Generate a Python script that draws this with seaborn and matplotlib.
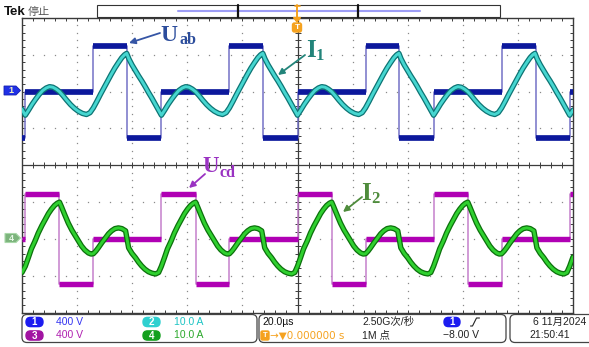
import numpy as np
import matplotlib
matplotlib.use("Agg")
import matplotlib.pyplot as plt
import seaborn as sns
import matplotlib.patheffects as pe
from matplotlib.patches import FancyBboxPatch, Rectangle, Polygon

sns.set_theme(style="white")
plt.rcParams['font.family'] = ['Liberation Sans', 'Noto Sans CJK SC', 'DejaVu Sans']

W, H = 589, 347

# ------------------------------------------------------------------ data
# time axis in microseconds (20 us/div, trigger at 0)
uab_t = [-100.0, -98.8, -74.1, -61.8, -49.4, -24.7, -12.4, 0.0, 24.7, 37.0,
         49.4, 74.1, 86.4, 98.8, 100.0]
uab_v = [-500, 0, 500, -500, 0, 500, -500, 0, 500, -500, 0, 500, -500, 0, 0]

ucd_t = [-100.0, -98.8, -86.4, -74.1, -49.4, -37.0, -24.7, 0.0, 12.4, 24.7,
         49.4, 61.8, 74.1, 98.8, 100.0]
ucd_v = [0, 485, -485, 0, 485, -485, 0, 485, -485, 0, 485, -485, 0, 485, 485]

i1_t = [-100.0,
        -98.8, -97.6, -96.3, -95.0, -93.8, -92.5, -91.2, -90.0, -88.8, -87.6,
        -86.4, -85.1, -83.8, -82.4, -81.0, -79.6, -78.1, -76.6, -75.3, -74.1,
        -72.8, -71.5, -70.2, -68.9, -67.6, -66.3, -65.0, -63.8, -62.8, -62.0,
        -61.2, -60.1, -58.9, -57.7, -56.5, -55.3, -54.1, -52.9, -51.7, -50.5,
        -49.4, -48.2, -46.9, -45.6, -44.4, -43.1, -41.8, -40.6, -39.4, -38.2,
        -37.0, -35.7, -34.4, -33.0, -31.6, -30.2, -28.7, -27.2, -25.9, -24.7,
        -23.4, -22.1, -20.8, -19.5, -18.2, -16.9, -15.6, -14.4, -13.4, -12.6,
        -11.8, -10.7, -9.5, -8.3, -7.1, -5.9, -4.7, -3.5, -2.3, -1.1,
        0.0, 1.2, 2.5, 3.8, 5.0, 6.3, 7.6, 8.8, 10.0, 11.2,
        12.4, 13.7, 15.0, 16.4, 17.8, 19.2, 20.7, 22.2, 23.5, 24.7,
        26.0, 27.3, 28.6, 29.9, 31.2, 32.5, 33.8, 35.0, 36.0, 36.8,
        37.6, 38.7, 39.9, 41.1, 42.3, 43.5, 44.7, 45.9, 47.1, 48.3,
        49.4, 50.6, 51.9, 53.2, 54.4, 55.7, 57.0, 58.2, 59.4, 60.6,
        61.8, 63.1, 64.4, 65.8, 67.2, 68.6, 70.1, 71.6, 72.9, 74.1,
        75.4, 76.7, 78.0, 79.3, 80.6, 81.9, 83.2, 84.4, 85.4, 86.2,
        87.0, 88.1, 89.3, 90.5, 91.7, 92.9, 94.1, 95.3, 96.5, 97.7,
        98.8, 100.0]
i1_v = [-4.8,
        -6.4, -5.0, -3.4, -2.0, -0.8, 0.3, 1.0, 1.35, 1.2, 0.7,
        0.0, -1.1, -2.3, -3.5, -4.5, -5.3, -5.9, -6.2, -5.7, -4.4,
        -2.6, -0.7, 1.1, 2.9, 4.7, 6.4, 7.9, 9.2, 10.0, 10.4,
        8.9, 7.3, 5.8, 4.3, 2.9, 1.4, -0.2, -1.7, -3.3, -4.9,
        -6.4, -5.0, -3.4, -2.0, -0.8, 0.3, 1.0, 1.35, 1.2, 0.7,
        0.0, -1.1, -2.3, -3.5, -4.5, -5.3, -5.9, -6.2, -5.7, -4.4,
        -2.6, -0.7, 1.1, 2.9, 4.7, 6.4, 7.9, 9.2, 10.0, 10.4,
        8.9, 7.3, 5.8, 4.3, 2.9, 1.4, -0.2, -1.7, -3.3, -4.9,
        -6.4, -5.0, -3.4, -2.0, -0.8, 0.3, 1.0, 1.35, 1.2, 0.7,
        0.0, -1.1, -2.3, -3.5, -4.5, -5.3, -5.9, -6.2, -5.7, -4.4,
        -2.6, -0.7, 1.1, 2.9, 4.7, 6.4, 7.9, 9.2, 10.0, 10.4,
        8.9, 7.3, 5.8, 4.3, 2.9, 1.4, -0.2, -1.7, -3.3, -4.9,
        -6.4, -5.0, -3.4, -2.0, -0.8, 0.3, 1.0, 1.35, 1.2, 0.7,
        0.0, -1.1, -2.3, -3.5, -4.5, -5.3, -5.9, -6.2, -5.7, -4.4,
        -2.6, -0.7, 1.1, 2.9, 4.7, 6.4, 7.9, 9.2, 10.0, 10.4,
        8.9, 7.3, 5.8, 4.3, 2.9, 1.4, -0.2, -1.7, -3.3, -4.9,
        -6.4, -5.0]

i2_t = [-100.0,
        -98.8, -97.7, -96.6, -95.3, -94.1, -92.8, -91.5, -90.4, -89.3, -88.2,
        -87.2, -86.4, -85.7, -84.5, -83.2, -81.9, -80.6, -79.5, -78.4, -77.2,
        -75.9, -74.9, -74.1, -73.2, -72.3, -71.0, -69.7, -68.6, -67.5, -66.3,
        -65.0, -63.7, -62.4, -61.3, -60.1, -58.8, -57.7, -56.6, -55.4, -54.1,
        -52.8, -51.5, -50.4,
        -49.4, -48.3, -47.2, -45.9, -44.7, -43.4, -42.1, -41.0, -39.9, -38.8,
        -37.8, -37.0, -36.3, -35.1, -33.8, -32.5, -31.2, -30.1, -29.0, -27.8,
        -26.5, -25.5, -24.7, -23.8, -22.9, -21.6, -20.3, -19.2, -18.1, -16.9,
        -15.6, -14.3, -13.0, -11.9, -10.7, -9.4, -8.3, -7.2, -6.0, -4.7,
        -3.4, -2.1, -1.0,
        0.0, 1.1, 2.2, 3.5, 4.7, 6.0, 7.3, 8.4, 9.5, 10.6,
        11.6, 12.4, 13.1, 14.3, 15.6, 16.9, 18.2, 19.3, 20.4, 21.6,
        22.9, 23.9, 24.7, 25.6, 26.5, 27.8, 29.1, 30.2, 31.3, 32.5,
        33.8, 35.1, 36.4, 37.5, 38.7, 40.0, 41.1, 42.2, 43.4, 44.7,
        46.0, 47.3, 48.4,
        49.4, 50.5, 51.6, 52.9, 54.1, 55.4, 56.7, 57.8, 58.9, 60.0,
        61.0, 61.8, 62.5, 63.7, 65.0, 66.3, 67.6, 68.7, 69.8, 71.0,
        72.3, 73.3, 74.1, 75.0, 75.9, 77.2, 78.5, 79.6, 80.7, 81.9,
        83.2, 84.5, 85.8, 86.9, 88.1, 89.4, 90.5, 91.6, 92.8, 94.1,
        95.4, 96.7, 97.8,
        98.8, 100.0]
i2_v = [-9.1,
        -7.4, -5.1, -2.7, -0.6, 1.6, 3.6, 5.4, 6.9, 8.1, 9.1,
        9.7, 10.0, 8.8, 6.6, 4.3, 2.4, 0.8, -0.6, -1.9, -3.0,
        -3.8, -4.1, -4.0, -3.3, -2.4, -1.0, 0.3, 1.4, 2.2, 2.8,
        3.0, 2.8, 2.2, -2.4, -3.9, -5.1, -6.3, -7.3, -8.2, -8.9,
        -9.3, -9.5, -9.1,
        -7.4, -5.1, -2.7, -0.6, 1.6, 3.6, 5.4, 6.9, 8.1, 9.1,
        9.7, 10.0, 8.8, 6.6, 4.3, 2.4, 0.8, -0.6, -1.9, -3.0,
        -3.8, -4.1, -4.0, -3.3, -2.4, -1.0, 0.3, 1.4, 2.2, 2.8,
        3.0, 2.8, 2.2, -2.4, -3.9, -5.1, -6.3, -7.3, -8.2, -8.9,
        -9.3, -9.5, -9.1,
        -7.4, -5.1, -2.7, -0.6, 1.6, 3.6, 5.4, 6.9, 8.1, 9.1,
        9.7, 10.0, 8.8, 6.6, 4.3, 2.4, 0.8, -0.6, -1.9, -3.0,
        -3.8, -4.1, -4.0, -3.3, -2.4, -1.0, 0.3, 1.4, 2.2, 2.8,
        3.0, 2.8, 2.2, -2.4, -3.9, -5.1, -6.3, -7.3, -8.2, -8.9,
        -9.3, -9.5, -9.1,
        -7.4, -5.1, -2.7, -0.6, 1.6, 3.6, 5.4, 6.9, 8.1, 9.1,
        9.7, 10.0, 8.8, 6.6, 4.3, 2.4, 0.8, -0.6, -1.9, -3.0,
        -3.8, -4.1, -4.0, -3.3, -2.4, -1.0, 0.3, 1.4, 2.2, 2.8,
        3.0, 2.8, 2.2, -2.4, -3.9, -5.1, -6.3, -7.3, -8.2, -8.9,
        -9.3, -9.5, -9.1,
        -7.4, -4.9]

# channel settings (volts or amps per division, ground position in divisions)
ch_scale = {"Uab": 400, "I1": 10, "Ucd": 400, "I2": 10}
ch_pos = {"Uab": 2, "I1": 2, "Ucd": -2, "I2": -2}

# footer text
ch_labels = ["1", "2", "3", "4"]
ch_scale_txt = ["400 V", "10.0 A", "400 V", "10.0 A"]
ch_colors = ["#1c1cf0", "#2fd0d0", "#a214a2", "#14a01e"]
ch_text_colors = ["#3434f0", "#1cc4c4", "#b020b0", "#2aa82a"]


def div(vals, ch):
    return np.asarray(vals, dtype=float) / ch_scale[ch] + ch_pos[ch]


# ------------------------------------------------------------------ figure
fig = plt.figure(figsize=(W / 100, H / 100), dpi=100)
fig.patch.set_facecolor("white")

GL, GR, GT, GB = 22, 573, 18.0, 312.6
ax = fig.add_axes([GL / W, 1 - GB / H, (GR - GL) / W, (GB - GT) / H])
ax.set_xlim(-100, 100)
ax.set_ylim(-4, 4)
ax.set_xticks([])
ax.set_yticks([])
ax.set_facecolor("white")
for s in ax.spines.values():
    s.set_color("#3a3a3a")
    s.set_linewidth(1.0)

# graticule
minor_x = np.arange(-100, 100.01, 4)
minor_y = np.arange(-4, 4.001, 0.2)
dot_y = minor_y[1:-1]
dot_x = minor_x[1:-1]
for gx in np.arange(-80, 81, 20):
    if gx == 0:
        continue
    ax.plot(np.full(len(dot_y), gx), dot_y, ls="none", marker="s", ms=0.9,
            mew=0, color="#8a8a8a", zorder=1)
for gy in np.arange(-3, 4, 1):
    if gy == 0:
        continue
    ax.plot(dot_x, np.full(len(dot_x), gy), ls="none", marker="s", ms=0.9,
            mew=0, color="#8a8a8a", zorder=1)
ax.axhline(0, color="#3c3c3c", lw=0.9, zorder=1)
ax.axvline(0, color="#3c3c3c", lw=0.9, zorder=1)
tkx = 3 / 36.8
tky = 3 / 55.1 * 20
ax.vlines(minor_x, -tkx, tkx, color="#3c3c3c", lw=0.7, zorder=1)
ax.hlines(minor_y, -tky, tky, color="#3c3c3c", lw=0.7, zorder=1)
ax.vlines(minor_x, 4 - tkx, 4, color="#3c3c3c", lw=0.7, zorder=1)
ax.vlines(minor_x, -4, -4 + tkx, color="#3c3c3c", lw=0.7, zorder=1)
ax.hlines(minor_y, -100, -100 + tky, color="#3c3c3c", lw=0.7, zorder=1)
ax.hlines(minor_y, 100 - tky, 100, color="#3c3c3c", lw=0.7, zorder=1)

# square-wave voltages
for t, v, ch, thin, thick, lw in [(uab_t, uab_v, "Uab", "#7472c6", "#0c189c", 4.1),
                                   (ucd_t, ucd_v, "Ucd", "#c580cc", "#b000b4", 3.9)]:
    y = div(v, ch)
    sns.lineplot(x=t, y=y, ax=ax, drawstyle="steps-post", color=thin,
                 linewidth=1.1, estimator=None, sort=False, zorder=3)
    ax.hlines(y[:-1], t[:-1], t[1:], color=thick, lw=lw, zorder=3)

# currents
for t, v, ch, inner, outer in [(i1_t, i1_v, "I1", "#46d6d0", "#0d7474"),
                                (i2_t, i2_v, "I2", "#2fd02f", "#0c700c")]:
    sns.lineplot(x=t, y=div(v, ch), ax=ax, color=inner, linewidth=2.1,
                 estimator=None, sort=False, zorder=4)
    ln = ax.lines[-1]
    ln.set_solid_joinstyle("round")
    ln.set_path_effects([pe.Stroke(linewidth=3.9, foreground=outer, joinstyle="round"),
                         pe.Normal()])

ax.set_xlabel("")
ax.set_ylabel("")
if ax.get_legend() is not None:
    ax.get_legend().remove()

# ------------------------------------------------------------------ overlay (pixel coords)
ov = fig.add_axes([0, 0, 1, 1])
ov.set_xlim(0, W)
ov.set_ylim(H, 0)
ov.axis("off")
ov.set_zorder(5)
ov.patch.set_alpha(0)

# header
ov.text(4, 12, "Tek", fontsize=9.5, fontweight="bold", color="#111111", va="center")
ov.text(28, 12, "停止", fontsize=8, color="#555555", va="center",
        family=["Noto Sans CJK SC", "DejaVu Sans"])
ov.add_patch(Rectangle((97, 5), 403, 12, fill=False, ec="#333333", lw=0.8))
ov.plot([178, 420], [11, 11], color="#9d9df5", lw=1.5)
ov.plot([238, 238], [5, 17], color="#111111", lw=1.6)
ov.plot([358, 358], [5, 17], color="#111111", lw=1.6)
org = "#f5a21f"
ov.plot([297, 297], [5, 18], color=org, lw=1.4)
ov.plot([294.5, 299.5], [5.5, 5.5], color=org, lw=1.2)
ov.add_patch(Polygon([[293.5, 17.5], [300.5, 17.5], [297, 22]], closed=True, color=org))
ov.add_patch(FancyBboxPatch((292.5, 23), 9, 9, boxstyle="round,pad=0,rounding_size=2",
                            fc=org, ec=org))
ov.text(297, 27.8, "T", fontsize=6, color="white", ha="center", va="center",
        fontweight="bold")

# channel markers at left
ov.add_patch(Polygon([[4, 86], [16, 86], [20.5, 90.5], [16, 95], [4, 95]],
                     closed=True, fc="#1f30e6", ec="#1420b0", lw=0.6))
ov.text(11, 90.7, "1", fontsize=6.5, color="#f0f0c0", ha="center", va="center",
        fontweight="bold")
ov.add_patch(Polygon([[5, 233.5], [16, 233.5], [20.5, 238], [16, 242.5], [5, 242.5]],
                     closed=True, fc="#7cb47c", ec="#a8d8a8", lw=0.8))
ov.text(11.5, 238.2, "4", fontsize=6.5, color="#e8f8e8", ha="center", va="center",
        fontweight="bold")

# trace labels
serif = ["Liberation Serif", "DejaVu Serif"]
lab = [
    (160, 41, "U", 17, 180, 44, "ab", 11.5, "#2c4d9c"),
    (306, 57, "I", 18, 316, 60, "1", 12, "#22847a"),
    (202, 172, "U", 16.5, 220, 177, "cd", 11.5, "#9a32c2"),
    (361, 200, "I", 18, 371, 202.5, "2", 12, "#4f8c3c"),
]
for x, y, s, fs, xs, ys, ss, fss, c in lab:
    ov.text(x, y, s, fontsize=fs, color=c, fontweight="bold", family=serif,
            va="baseline")
    ov.text(xs, ys, ss, fontsize=fss, color=c, fontweight="bold", family=serif,
            va="baseline")
arrows = [((160, 33), (129, 43), "#3555a5"),
          ((305, 55), (278, 75), "#22847a"),
          ((205, 174), (189, 188), "#9a32c2"),
          ((362, 197), (343, 212), "#4f8c3c")]
for tail, head, c in arrows:
    ov.annotate("", xy=head, xytext=tail,
                arrowprops=dict(arrowstyle="-|>", color=c, lw=1.3, mutation_scale=9,
                                shrinkA=0, shrinkB=0))

# footer boxes
for x0, x1 in [(22, 257), (259, 506), (510, 600)]:
    ov.add_patch(FancyBboxPatch((x0, 314.5), x1 - x0, 28, boxstyle="round,pad=0,rounding_size=5",
                                fill=False, ec="#444444", lw=0.9))

fkw = dict(fontsize=7.5, va="center")
rows = [322, 335.5]
pos = [(26, 56, 0), (143, 174, 0), (26, 56, 1), (143, 174, 1)]
for (ox, tx, r), lb, st, oc, tc in zip(pos, ch_labels, ch_scale_txt, ch_colors, ch_text_colors):
    yy = rows[r]
    ov.add_patch(FancyBboxPatch((ox, yy - 4.6), 17, 9.2, boxstyle="round,pad=0,rounding_size=4.5",
                                fc=oc, ec=oc))
    ov.text(ox + 8.5, yy + 0.3, lb, fontsize=7, color="white", ha="center", va="center",
            fontweight="bold")
    ov.text(tx, yy, st, color=tc, **fkw)

ov.text(262, rows[0], "20.0µs", color="#111111", **fkw)
ov.add_patch(FancyBboxPatch((261, rows[1] - 4.5), 8, 9, boxstyle="round,pad=0,rounding_size=1.5",
                            fc=org, ec=org))
ov.text(265, rows[1] + 0.3, "T", fontsize=5.5, color="white", ha="center", va="center",
        fontweight="bold")
ov.text(270, rows[1], "→▼0.000000 s", color=org, fontsize=7.5, va="center",
        family=["DejaVu Sans"])
ov.text(362, rows[0], "2.50G次/秒", color="#222222", **fkw)
ov.text(362, rows[1], "1M 点", color="#222222", **fkw)
ov.add_patch(FancyBboxPatch((444, rows[0] - 4.6), 16, 9.2, boxstyle="round,pad=0,rounding_size=4.5",
                            fc="#1c1cf0", ec="#1c1cf0"))
ov.text(452, rows[0] + 0.3, "1", fontsize=7, color="white", ha="center", va="center",
        fontweight="bold")
ov.plot([470.5, 472.5, 476.5, 479.5], [326, 326, 318, 318], color="#222222", lw=0.8)
ov.text(443, rows[1], "−8.00 V", color="#222222", **fkw)
ov.text(533, rows[0], "6 11月2024", color="#222222", **fkw)
ov.text(529, rows[1], "21:50:41", color="#222222", **fkw)

fig.savefig("out.png", dpi=100, facecolor="white")
